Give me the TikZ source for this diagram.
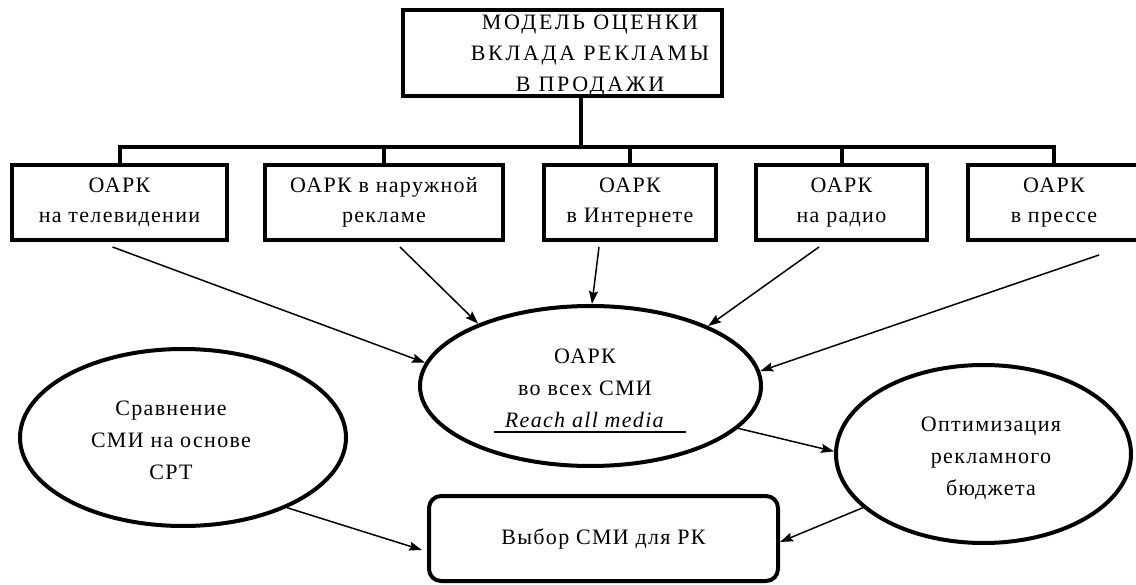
\documentclass[tikz,border=0pt]{standalone}
\usepackage{fontspec}
\setmainfont{Liberation Serif}[LetterSpace=6]
\newfontfamily\titlefont{Liberation Serif}[LetterSpace=12]
\usetikzlibrary{shapes.geometric,arrows.meta,calc}
\begin{document}
\begin{tikzpicture}[x=1pt,y=-1pt,
  boxst/.style={draw,line width=4pt,inner sep=0pt,align=center,font=\fontsize{22}{30}\selectfont},
  ell/.style={draw,ellipse,line width=4pt,inner sep=0pt},
  txt/.style={align=center,inner sep=0pt,font=\fontsize{22}{32}\selectfont},
  bus/.style={line width=4pt},
  arr/.style={line width=1.5pt,-{Stealth[length=13pt,width=9pt,inset=2pt]}},
]
\useasboundingbox (0,0) rectangle (1136,585);
% top box
\node[boxst,minimum width=319pt,minimum height=86pt] (top) at (562.5,53) {};
\node[txt,font=\titlefont\fontsize{22}{31}\selectfont] (toptext) at (590,56) {МОДЕЛЬ ОЦЕНКИ\\ВКЛАДА РЕКЛАМЫ\\В ПРОДАЖИ};
% media boxes
\node[boxst,minimum width=215pt,minimum height=75pt] (b1) at (119.5,202.5) {ОАРК\\на телевидении};
\node[boxst,minimum width=238pt,minimum height=75pt] (b2) at (384,202.5) {ОАРК в наружной\\рекламе};
\node[boxst,minimum width=172pt,minimum height=75pt] (b3) at (630,202.5) {ОАРК\\в Интернете};
\node[boxst,minimum width=171pt,minimum height=75pt] (b4) at (841.5,202.5) {ОАРК\\на радио};
\node[boxst,minimum width=172pt,minimum height=75pt] (b5) at (1054,202.5) {ОАРК\\в прессе};
% bus
\coordinate (busT) at (581,147);
\coordinate (busR) at (1054,147);
\draw[bus] (top.south -| busT) -- (busT);
\draw[bus] (b1.north) |- (busR) -- (b5.north);
\draw[bus] (b2.north) -- (b2.north |- busR);
\draw[bus] (b3.north) -- (b3.north |- busR);
\draw[bus] (b4.north) -- (b4.north |- busR);
% ellipses
\node[ell,minimum width=341pt,minimum height=160pt] (c) at (590.5,386) {};
\node[txt] (ctext) at (585,388) {ОАРК\\во всех СМИ\\\textit{Reach all media}};
\coordinate (ulL) at (494,432);
\coordinate (ulR) at (686,432);
\draw[line width=1.5pt] (ulL) -- (ulR);
\node[ell,minimum width=295pt,minimum height=178pt] (opt) at (983.5,454) {};
\node[txt] (opttext) at (991,458) {Оптимизация\\рекламного\\бюджета};
\node[ell,minimum width=326pt,minimum height=177pt] (cmp) at (183,437.5) {};
\node[txt] (cmptext) at (171,440) {Сравнение\\СМИ на основе\\СРТ};
% selection box
\node[draw,line width=4pt,rounded corners=12pt,inner sep=0pt,minimum width=349pt,minimum height=85pt,font=\fontsize{22}{30}\selectfont] (sel) at (603.5,538.5) {Выбор СМИ для РК};
% arrows
\draw[arr] ([shift={(-7,5)}]b1.south) -- (c.172.3);
\draw[arr] ([shift={(16,5)}]b2.south) -- (c.151.2);
\draw[arr] ([shift={(-31,5)}]b3.south) -- (c.89);
\draw[arr] ([shift={(-22.5,5)}]b4.south) -- (c.27.9);
\draw[arr] ([shift={(45,13)}]b5.south) -- (c.5.4);
\draw[arr] (c.-16.6) -- (opt.179.2);
\draw[arr] (opt.204.4) -- ([shift={(0,3.5)}]sel.east);
\draw[arr] (cmp.-34.6) -- ([shift={(-5,11.5)}]sel.west);
\end{tikzpicture}
\end{document}
